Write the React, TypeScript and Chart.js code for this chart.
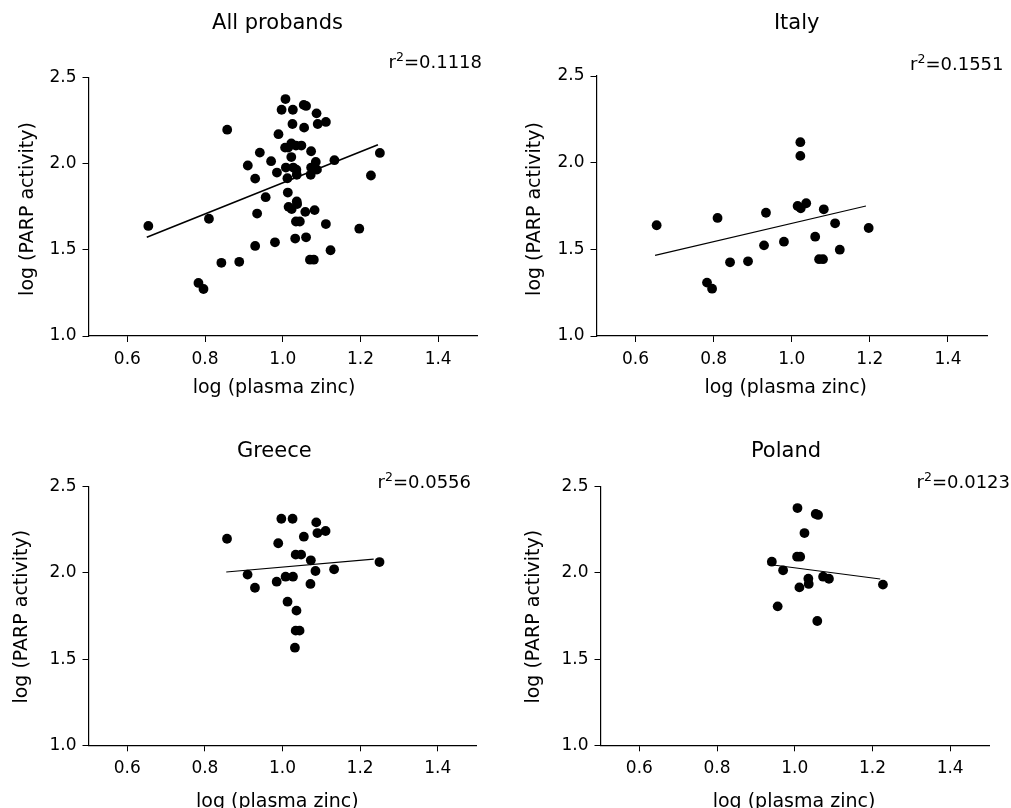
import React, { useEffect, useRef } from "react";
import { Chart, registerables } from "chart.js";

Chart.register(...registerables);

// ---- Data (log plasma zinc vs log PARP activity) ----
const italyZinc = [0.654, 0.810, 0.783, 0.796, 0.842, 0.888, 0.934, 0.929, 0.980, 1.022, 1.022, 1.015, 1.023, 1.037, 1.082, 1.060, 1.070, 1.080, 1.111, 1.123, 1.197];
const italyParp = [1.639, 1.681, 1.308, 1.273, 1.425, 1.431, 1.711, 1.523, 1.544, 2.118, 2.039, 1.750, 1.737, 1.766, 1.731, 1.573, 1.443, 1.443, 1.650, 1.498, 1.623];

const greeceZinc = [0.857, 0.997, 1.026, 1.087, 1.090, 1.111, 1.055, 0.989, 1.034, 1.048, 1.073, 1.250, 0.910, 0.929, 0.985, 1.008, 1.027, 1.085, 1.133, 1.072, 1.013, 1.036, 1.034, 1.044, 1.032];
const greeceParp = [2.198, 2.314, 2.314, 2.293, 2.231, 2.243, 2.210, 2.172, 2.106, 2.106, 2.073, 2.063, 1.990, 1.914, 1.949, 1.978, 1.978, 2.011, 2.021, 1.936, 1.833, 1.781, 1.665, 1.665, 1.566];

const polandZinc = [1.007, 1.054, 1.060, 1.025, 1.006, 1.014, 0.941, 0.970, 1.035, 1.036, 1.012, 1.073, 1.088, 1.227, 0.956, 1.058];
const polandParp = [2.376, 2.342, 2.336, 2.231, 2.094, 2.094, 2.065, 2.015, 1.966, 1.936, 1.916, 1.978, 1.966, 1.932, 1.806, 1.721];

// All probands = union of the three countries
const allZinc = [...italyZinc, ...greeceZinc, ...polandZinc];
const allParp = [...italyParp, ...greeceParp, ...polandParp];

// Regression line endpoints
const allFitZinc = [0.65, 1.245];
const allFitParp = [1.573, 2.11];
const italyFitZinc = [0.65, 1.19];
const italyFitParp = [1.465, 1.75];
const greeceFitZinc = [0.855, 1.235];
const greeceFitParp = [2.005, 2.08];
const polandFitZinc = [0.93, 1.22];
const polandFitParp = [2.05, 1.965];

const panelTitles = ["All probands", "Italy", "Greece", "Poland"];
const rSquared = ["0.1118", "0.1551", "0.0556", "0.0123"];

const xTicks = [0.6, 0.8, 1.0, 1.2, 1.4];
const yTicks = [1.0, 1.5, 2.0, 2.5];
const xLabel = "log (plasma zinc)";
const yLabel = "log (PARP activity)";

const FONT = "'DejaVu Sans', sans-serif";

type Layout = {
  left: number; top: number; w: number; h: number;
  area: { l: number; r: number; t: number; b: number };
  title: { x: number; y: number };
  r2: { x: number; y: number };
  xt: { x: number; y: number };
  yt: { x: number; y: number };
};

const layouts: Layout[] = [
  { left: 0, top: 0, w: 505, h: 400, area: { l: 88.5, r: 477, t: 77.7, b: 336 },
    title: { x: 277.5, y: 29 }, r2: { x: 482, y: 68 }, xt: { x: 274, y: 393 }, yt: { x: 33, y: 209 } },
  { left: 505, top: 0, w: 506, h: 400, area: { l: 91.5, r: 482, t: 76, b: 336 },
    title: { x: 291.7, y: 29 }, r2: { x: 498.5, y: 70 }, xt: { x: 280.7, y: 393 }, yt: { x: 35, y: 209 } },
  { left: 0, top: 400, w: 505, h: 408, area: { l: 88.5, r: 476.5, t: 86.7, b: 345.3 },
    title: { x: 274.3, y: 56.7 }, r2: { x: 471, y: 88.3 }, xt: { x: 277.3, y: 406.7 }, yt: { x: 27, y: 216.7 } },
  { left: 505, top: 400, w: 506, h: 408, area: { l: 95.5, r: 484, t: 86.7, b: 345.3 },
    title: { x: 281, y: 56.7 }, r2: { x: 505, y: 88.3 }, xt: { x: 289, y: 406.7 }, yt: { x: 34, y: 216.7 } },
];

const pointsOf = (xs: number[], ys: number[]) => xs.map((x, i) => ({ x, y: ys[i] }));

const panelData = [
  { pts: pointsOf(allZinc, allParp), fit: pointsOf(allFitZinc, allFitParp), lw: 1.6 },
  { pts: pointsOf(italyZinc, italyParp), fit: pointsOf(italyFitZinc, italyFitParp), lw: 1.1 },
  { pts: pointsOf(greeceZinc, greeceParp), fit: pointsOf(greeceFitZinc, greeceFitParp), lw: 1.1 },
  { pts: pointsOf(polandZinc, polandParp), fit: pointsOf(polandFitZinc, polandFitParp), lw: 1.1 },
];

function makeChart(canvas: HTMLCanvasElement, idx: number) {
  const L = layouts[idx];
  const D = panelData[idx];
  const textPlugin = {
    id: "panelText" + idx,
    afterDraw(chart: any) {
      const ctx = chart.ctx as CanvasRenderingContext2D;
      ctx.save();
      ctx.fillStyle = "#000";
      ctx.textBaseline = "alphabetic";
      // title
      ctx.font = `21px ${FONT}`;
      ctx.textAlign = "center";
      ctx.fillText(panelTitles[idx], L.title.x, L.title.y);
      // r^2 text, right aligned
      const big = `18px ${FONT}`;
      const small = `12.5px ${FONT}`;
      ctx.font = big;
      const wr = ctx.measureText("r").width;
      const wrest = ctx.measureText("=" + rSquared[idx]).width;
      ctx.font = small;
      const w2 = ctx.measureText("2").width;
      const total = wr + w2 + wrest;
      const x0 = L.r2.x - total;
      ctx.textAlign = "left";
      ctx.font = big;
      ctx.fillText("r", x0, L.r2.y);
      ctx.font = small;
      ctx.fillText("2", x0 + wr, L.r2.y - 7);
      ctx.font = big;
      ctx.fillText("=" + rSquared[idx], x0 + wr + w2, L.r2.y);
      // axis titles
      ctx.font = `19px ${FONT}`;
      ctx.textAlign = "center";
      ctx.fillText(xLabel, L.xt.x, L.xt.y);
      ctx.translate(L.yt.x, L.yt.y);
      ctx.rotate(-Math.PI / 2);
      ctx.fillText(yLabel, 0, 0);
      ctx.restore();
    },
  };

  const tickFont = { family: FONT, size: 17 };

  return new Chart(canvas, {
    type: "scatter",
    data: {
      datasets: [
        {
          type: "scatter",
          data: D.pts,
          pointRadius: 4.9,
          pointBackgroundColor: "#000",
          pointBorderColor: "#000",
          pointBorderWidth: 0,
          pointHoverRadius: 4.9,
        } as any,
        {
          type: "line",
          data: D.fit,
          borderColor: "#000",
          borderWidth: D.lw,
          pointRadius: 0,
          fill: false,
          tension: 0,
        } as any,
      ],
    },
    options: {
      animation: false,
      responsive: false,
      devicePixelRatio: 1,
      events: [],
      layout: { padding: { left: 0, top: L.area.t, right: L.w - L.area.r, bottom: 0 } },
      plugins: { legend: { display: false }, tooltip: { enabled: false }, title: { display: false } },
      scales: {
        x: {
          type: "linear",
          min: 0.5,
          max: 1.5,
          afterBuildTicks: (s: any) => { s.ticks = xTicks.map((v) => ({ value: v })); },
          afterFit: (s: any) => { s.height = L.h - L.area.b; },
          grid: { display: true, drawOnChartArea: false, drawTicks: true, tickLength: 6, color: "#000", lineWidth: 1 },
          border: { display: true, color: "#000", width: 1.2 },
          ticks: { color: "#000", font: tickFont, padding: 7, maxRotation: 0, autoSkip: false, callback: (v: any) => Number(v).toFixed(1) },
        },
        y: {
          type: "linear",
          min: 1.0,
          max: 2.5,
          afterBuildTicks: (s: any) => { s.ticks = yTicks.map((v) => ({ value: v })); },
          afterFit: (s: any) => { s.width = L.area.l; },
          grid: { display: true, drawOnChartArea: false, drawTicks: true, tickLength: 6, color: "#000", lineWidth: 1 },
          border: { display: true, color: "#000", width: 1.2 },
          ticks: { color: "#000", font: tickFont, padding: 6, autoSkip: false, callback: (v: any) => Number(v).toFixed(1) },
        },
      },
    } as any,
    plugins: [textPlugin],
  });
}

export default function App() {
  const refs = [useRef<HTMLCanvasElement>(null), useRef<HTMLCanvasElement>(null), useRef<HTMLCanvasElement>(null), useRef<HTMLCanvasElement>(null)];
  useEffect(() => {
    const charts = refs.map((r, i) => (r.current ? makeChart(r.current, i) : null));
    return () => { charts.forEach((c) => c && c.destroy()); };
  }, []);
  return (
    <div style={{ position: "absolute", left: 0, top: 0, width: 1011, height: 808, background: "#fff", overflow: "hidden" }}>
      {layouts.map((L, i) => (
        <canvas
          key={i}
          ref={refs[i]}
          width={L.w}
          height={L.h}
          style={{ position: "absolute", left: L.left, top: L.top, width: L.w, height: L.h }}
        />
      ))}
    </div>
  );
}
